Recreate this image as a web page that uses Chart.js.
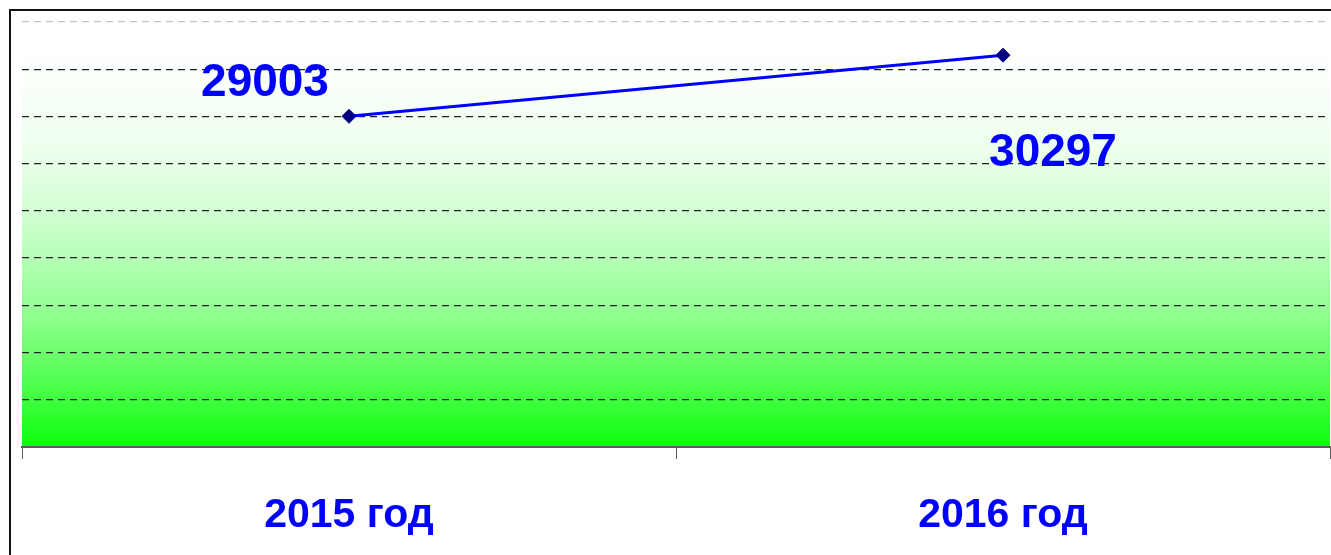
<!DOCTYPE html>
<html>
<head>
<meta charset="utf-8">
<script src="https://cdn.jsdelivr.net/npm/chart.js@4"></script>
<style>
  html, body { margin: 0; padding: 0; background: #fff; overflow: hidden; }
  #frame {
    position: absolute; left: 9px; top: 9px;
    width: 1400px; height: 600px;
    border: 2px solid #111;
  }
  #visitsChart { position: absolute; left: 0; top: 0; width: 1331px; height: 555px; }
</style>
</head>
<body>
<div id="frame"></div>
<canvas id="visitsChart" width="1331" height="555"></canvas>
<script>
// data
const years = ["2015 год", "2016 год"];
const values = [29003, 30297];
const yMin = 22000;
const yMax = 31000;
const yStep = 1000;

document.addEventListener("DOMContentLoaded", function () {
  const canvas = document.getElementById("visitsChart");
  if (!canvas) return;
  const ctx = canvas.getContext("2d");

  // green gradient behind the plot area
  const areaBackground = {
    id: "areaBackground",
    beforeDraw(chart) {
      const { ctx, chartArea: a } = chart;
      const g = ctx.createLinearGradient(0, a.top, 0, a.bottom);
      g.addColorStop(0, "#ffffff");
      g.addColorStop(0.06, "#ffffff");
      g.addColorStop(0.3, "#eeffee");
      g.addColorStop(0.5, "#c6ffc6");
      g.addColorStop(0.7, "#8cff8c");
      g.addColorStop(0.86, "#4cff4c");
      g.addColorStop(1, "#0cff0c");
      ctx.save();
      ctx.fillStyle = g;
      ctx.fillRect(a.left, a.top, a.right - a.left, a.bottom - a.top);
      ctx.restore();
    }
  };

  // value labels beside the points
  const valueLabels = {
    id: "valueLabels",
    afterDatasetsDraw(chart, args, opts) {
      const { ctx } = chart;
      const meta = chart.getDatasetMeta(0);
      ctx.save();
      ctx.font = "bold 46px 'Liberation Sans', Arial, sans-serif";
      ctx.fillStyle = "#0000ff";
      ctx.textAlign = "center";
      ctx.textBaseline = "middle";
      meta.data.forEach(function (pt, i) {
        const off = opts.offsets[i];
        ctx.fillText(String(values[i]), pt.x + off[0], pt.y + off[1]);
      });
      ctx.restore();
    }
  };

  new Chart(ctx, {
    type: "line",
    data: {
      labels: years,
      datasets: [
        {
          data: values,
          borderColor: "#0000ff",
          borderWidth: 3,
          pointStyle: "rectRot",
          pointRadius: 7,
          pointBackgroundColor: "#000080",
          pointBorderColor: "#000080",
          pointBorderWidth: 1,
          tension: 0
        }
      ]
    },
    options: {
      responsive: false,
      animation: false,
      layout: { autoPadding: false, padding: { left: 22, top: 22, right: 1, bottom: 0 } },
      plugins: {
        legend: { display: false },
        tooltip: { enabled: false },
        valueLabels: { offsets: [[-84, -33], [50, 98]] }
      },
      scales: {
        y: {
          display: true,
          min: yMin,
          max: yMax,
          afterFit: function (s) { s.width = 0; },
          ticks: { display: false, stepSize: yStep },
          border: { display: false, dash: [7, 5] },
          grid: {
            drawTicks: false,
            lineWidth: 1.3,
            color: function (c) {
              if (c.tick.value === yMax) return "#c4c4c4";
              if (c.tick.value === yMin) return "rgba(0,0,0,0)";
              return "#222222";
            }
          }
        },
        x: {
          offset: true,
          afterFit: function (s) { s.height = 108; s.paddingRight = 0; s.paddingLeft = 0; },
          border: { display: true, color: "#5a5a5a", width: 2 },
          grid: {
            offset: true,
            drawOnChartArea: false,
            tickLength: 12,
            color: "#5a5a5a",
            lineWidth: 1
          },
          ticks: {
            padding: 32,
            color: "#0000ff",
            font: { family: "'Liberation Sans', Arial, sans-serif", size: 41, weight: "bold" }
          }
        }
      }
    },
    plugins: [areaBackground, valueLabels]
  });
});
</script>
</body>
</html>
